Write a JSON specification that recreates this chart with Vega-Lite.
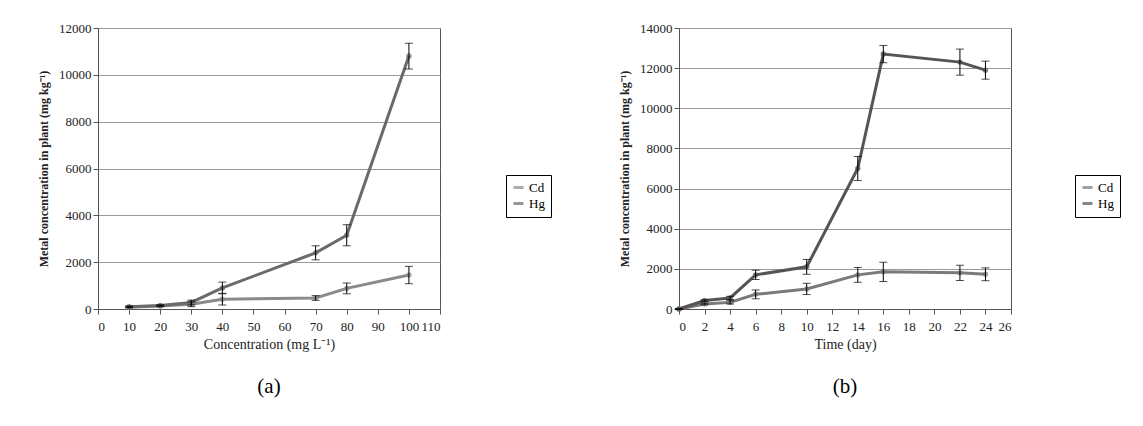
{
  "$schema": "https://vega.github.io/schema/vega-lite/v6.json",
  "padding": {"left": 37, "top": 21, "right": 5, "bottom": 5},
  "datasets": {
    "conc": [
      {"x": 10, "metal": "Cd", "y": 80, "err": 30},
      {"x": 20, "metal": "Cd", "y": 130, "err": 30},
      {"x": 30, "metal": "Cd", "y": 200, "err": 100},
      {"x": 40, "metal": "Cd", "y": 420, "err": 250},
      {"x": 70, "metal": "Cd", "y": 470, "err": 100},
      {"x": 80, "metal": "Cd", "y": 880, "err": 230},
      {"x": 100, "metal": "Cd", "y": 1450, "err": 370},
      {"x": 10, "metal": "Hg", "y": 100, "err": 30},
      {"x": 20, "metal": "Hg", "y": 150, "err": 30},
      {"x": 30, "metal": "Hg", "y": 280, "err": 100},
      {"x": 40, "metal": "Hg", "y": 900, "err": 250},
      {"x": 70, "metal": "Hg", "y": 2400, "err": 300},
      {"x": 80, "metal": "Hg", "y": 3150, "err": 450},
      {"x": 100, "metal": "Hg", "y": 10800, "err": 550}
    ],
    "time": [
      {"x": 0, "metal": "Cd", "y": 0, "err": 0},
      {"x": 2, "metal": "Cd", "y": 250, "err": 40},
      {"x": 4, "metal": "Cd", "y": 330, "err": 80},
      {"x": 6, "metal": "Cd", "y": 730, "err": 220},
      {"x": 10, "metal": "Cd", "y": 1000, "err": 280},
      {"x": 14, "metal": "Cd", "y": 1700, "err": 370},
      {"x": 16, "metal": "Cd", "y": 1850, "err": 480},
      {"x": 22, "metal": "Cd", "y": 1800, "err": 380},
      {"x": 24, "metal": "Cd", "y": 1730, "err": 320},
      {"x": 0, "metal": "Hg", "y": 0, "err": 0},
      {"x": 2, "metal": "Hg", "y": 420, "err": 40},
      {"x": 4, "metal": "Hg", "y": 550, "err": 80},
      {"x": 6, "metal": "Hg", "y": 1700, "err": 230},
      {"x": 10, "metal": "Hg", "y": 2100, "err": 370},
      {"x": 14, "metal": "Hg", "y": 7000, "err": 600},
      {"x": 16, "metal": "Hg", "y": 12700, "err": 430},
      {"x": 22, "metal": "Hg", "y": 12300, "err": 650},
      {"x": 24, "metal": "Hg", "y": 11900, "err": 450}
    ]
  },
  "spacing": 66,
  "hconcat": [
    {
      "data": {"name": "conc"},
      "width": 342,
      "height": 281,
      "title": {"text": "(a)", "orient": "bottom", "fontSize": 21, "fontWeight": "normal", "offset": 25},
      "encoding": {
        "x": {"field": "x", "type": "quantitative", "title": "Concentration (mg L⁻¹)",
              "scale": {"domain": [0, 110], "nice": false},
              "axis": {"values": [0,10,20,30,40,50,60,70,80,90,100,110], "grid": false}},
        "y": {"field": "y", "type": "quantitative", "title": "Metal concentration in plant (mg kg⁻¹)",
              "scale": {"domain": [0, 12000], "nice": false},
              "axis": {"values": [0,2000,4000,6000,8000,10000,12000], "format": "d"}},
        "color": {"field": "metal", "type": "nominal", "title": null,
                  "scale": {"domain": ["Cd", "Hg"], "range": ["#8a8a8a", "#6a6a6a"]},
                  "legend": {"orient": "none", "legendX": 408, "legendY": 147}}
      },
      "layer": [
        {"mark": {"type": "line", "strokeWidth": 3}},
        {"mark": {"type": "point", "filled": true, "size": 30}},
        {"mark": {"type": "errorbar", "ticks": {"size": 8, "color": "black"}, "rule": {"color": "black"}},
         "encoding": {"yError": {"field": "err"}, "color": {"value": "black"}}}
      ]
    },
    {
      "data": {"name": "time"},
      "width": 332,
      "height": 281,
      "title": {"text": "(b)", "orient": "bottom", "fontSize": 21, "fontWeight": "normal", "offset": 25},
      "encoding": {
        "x": {"field": "x", "type": "quantitative", "title": "Time (day)",
              "scale": {"domain": [0, 26], "nice": false},
              "axis": {"values": [0,2,4,6,8,10,12,14,16,18,20,22,24,26], "grid": false}},
        "y": {"field": "y", "type": "quantitative", "title": "Metal concentration in plant (mg kg⁻¹)",
              "scale": {"domain": [0, 14000], "nice": false},
              "axis": {"values": [0,2000,4000,6000,8000,10000,12000,14000], "format": "d"}},
        "color": {"field": "metal", "type": "nominal", "title": null,
                  "scale": {"domain": ["Cd", "Hg"], "range": ["#7a7a7a", "#555555"]},
                  "legend": {"orient": "none", "legendX": 396, "legendY": 147}}
      },
      "layer": [
        {"mark": {"type": "line", "strokeWidth": 3}},
        {"mark": {"type": "point", "filled": true, "size": 30}},
        {"mark": {"type": "errorbar", "ticks": {"size": 8, "color": "black"}, "rule": {"color": "black"}},
         "encoding": {"yError": {"field": "err"}, "color": {"value": "black"}}}
      ]
    }
  ],
  "resolve": {"scale": {"color": "independent"}, "legend": {"color": "independent"}},
  "config": {
    "font": "Liberation Serif",
    "view": {"stroke": "#555"},
    "axis": {"labelFontSize": 13, "titleFontSize": 14, "labelColor": "#222", "titleColor": "#222",
             "gridColor": "#999", "domainColor": "#555", "tickColor": "#555", "labelFont": "Liberation Serif", "titleFont": "Liberation Serif"},
    "axisY": {"titleFontWeight": "bold", "titleFontSize": 12, "titlePadding": 8},
    "axisX": {"titleFontWeight": "normal", "labelPadding": 6},
    "legend": {"strokeColor": "black", "padding": 6, "labelFontSize": 13,
               "symbolType": "stroke", "symbolStrokeWidth": 3, "labelFont": "Liberation Serif"}
  }
}
